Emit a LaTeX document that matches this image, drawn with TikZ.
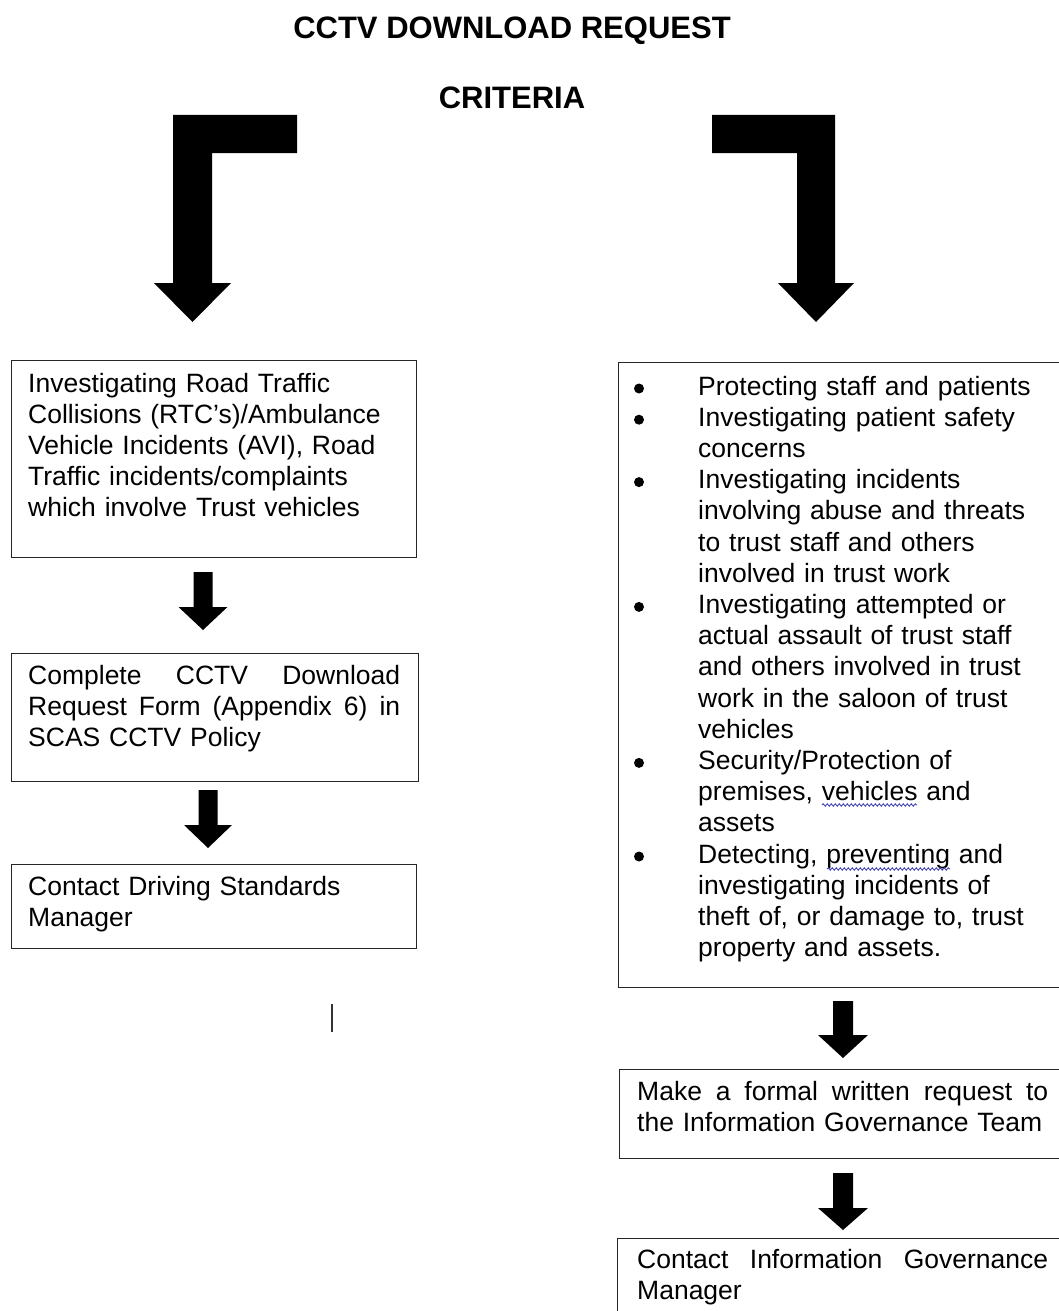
\documentclass[tikz,border=0pt]{standalone}
\usepackage{fontspec}
\setmainfont{Liberation Sans}
\usetikzlibrary{decorations.pathmorphing}
\tikzset{
  box/.style={draw=black!85, line width=1.3pt, rectangle, inner sep=0pt, anchor=north west},
  txt/.style={inner sep=0pt, anchor=base west, font=\fontsize{26.5}{31.2}\selectfont},
  ttl/.style={inner sep=0pt, anchor=base, font=\bfseries\fontsize{31}{36}\selectfont},
  blk/.style={fill=black, draw=none},
  bul/.style={circle, fill=black, draw=none, inner sep=0pt, minimum size=10pt},
  squig/.style={draw=blue!45!gray, line width=0.9pt, decorate, decoration={snake, segment length=4pt, amplitude=1.2pt}},
  cursorline/.style={draw=black!80, line width=1.5pt}
}
\newcommand{\blockdown}[6]{%
  \fill[blk] (#1-#5,#2) -- (#1+#5,#2) -- (#1+#5,#3) -- (#1+#6,#3) -- (#1,#4) -- (#1-#6,#3) -- (#1-#5,#3) -- cycle;}
\newcommand{\bitem}{\hangindent=62pt\hangafter=1\noindent\hspace*{62pt}}
\newcommand{\jline}[2]{\leavevmode\hbox to #1{#2}}
\begin{document}
\begin{tikzpicture}[x=1pt,y=-1pt]
\useasboundingbox (0,0) rectangle (1059,1311);
\fill[white] (0,0) rectangle (1059,1311);

% titles
\node[ttl] (title) at (512,38.5) {CCTV DOWNLOAD REQUEST};
\node[ttl] (crit) at (512,108.5) {CRITERIA};

% elbow arrows
\fill[blk] (297,115) -- (173,115) -- (173,283) -- (154,283) -- (192.5,322) -- (231,283) -- (212,283) -- (212,153) -- (297,153) -- cycle;
\fill[blk] (712,115) -- (835,115) -- (835,283) -- (854,283) -- (816,322) -- (778,283) -- (797,283) -- (797,153) -- (712,153) -- cycle;

% left column
\node[box, minimum width=405pt, minimum height=197pt] (l1) at (11,360) {};
\node[txt, text width=390pt, align=left] (l1t) at (28,392) {Investigating Road Traffic\\Collisions (RTC’s)/Ambulance\\Vehicle Incidents (AVI), Road\\Traffic incidents/complaints\\which involve Trust vehicles};

\blockdown{203}{572}{607}{630}{9.5}{24.5}

\node[box, minimum width=407pt, minimum height=128pt] (l2) at (11,653) {};
\node[txt, text width=400pt, align=left] (l2t) at (28,684) {\jline{372pt}{Complete\hfill CCTV\hfill Download}\\\jline{372pt}{Request\hfill Form\hfill (Appendix\hfill 6)\hfill in}\\SCAS CCTV Policy};

\blockdown{208}{790}{825}{848}{9.5}{24}

\node[box, minimum width=405pt, minimum height=84pt] (l3) at (11,864) {};
\node[txt, text width=390pt, align=left] (l3t) at (28,895) {Contact Driving Standards\\Manager};

% cursor mark
\draw[cursorline] (332,1004) -- (332,1032);

% right column
\node[box, minimum width=470pt, minimum height=625pt] (r1) at (618,362) {};
\node[txt, text width=430pt] (r1t) at (636,395) {%
\bitem Protecting staff and patients\par
\bitem Investigating patient safety\newline concerns\par
\bitem Investigating incidents\newline involving abuse and threats\newline to trust staff and others\newline involved in trust work\par
\bitem Investigating attempted or\newline actual assault of trust staff\newline and others involved in trust\newline work in the saloon of trust\newline vehicles\par
\bitem Security/Protection of\newline premises, vehicles and\newline assets\par
\bitem Detecting, preventing and\newline investigating incidents of\newline theft of, or damage to, trust\newline property and assets.\par};

% bullets
\node[bul] (b1) at (639,388.5) {};
\node[bul] (b2) at (639,419.7) {};
\node[bul] (b3) at (639,482.1) {};
\node[bul] (b4) at (639,606.9) {};
\node[bul] (b5) at (639,762.9) {};
\node[bul] (b6) at (639,856.5) {};

% spelling squiggles
\draw[squig] (822,805) -- (917,805);
\draw[squig] (827,869) -- (950,869);

\blockdown{843}{1001}{1035}{1058}{10}{25}

\node[box, minimum width=470pt, minimum height=89pt] (r2) at (619,1069) {};
\node[txt, text width=440pt, align=left] (r2t) at (637,1100) {\jline{411pt}{Make\hfill a\hfill formal\hfill written\hfill request\hfill to}\\the Information Governance Team};

\blockdown{843}{1173}{1208}{1230}{10}{25}

\node[box, minimum width=470pt, minimum height=100pt] (r3) at (617,1238) {};
\node[txt, text width=440pt, align=left] (r3t) at (637,1268) {\jline{411pt}{Contact\hfill Information\hfill Governance}\\Manager};
\end{tikzpicture}
\end{document}
